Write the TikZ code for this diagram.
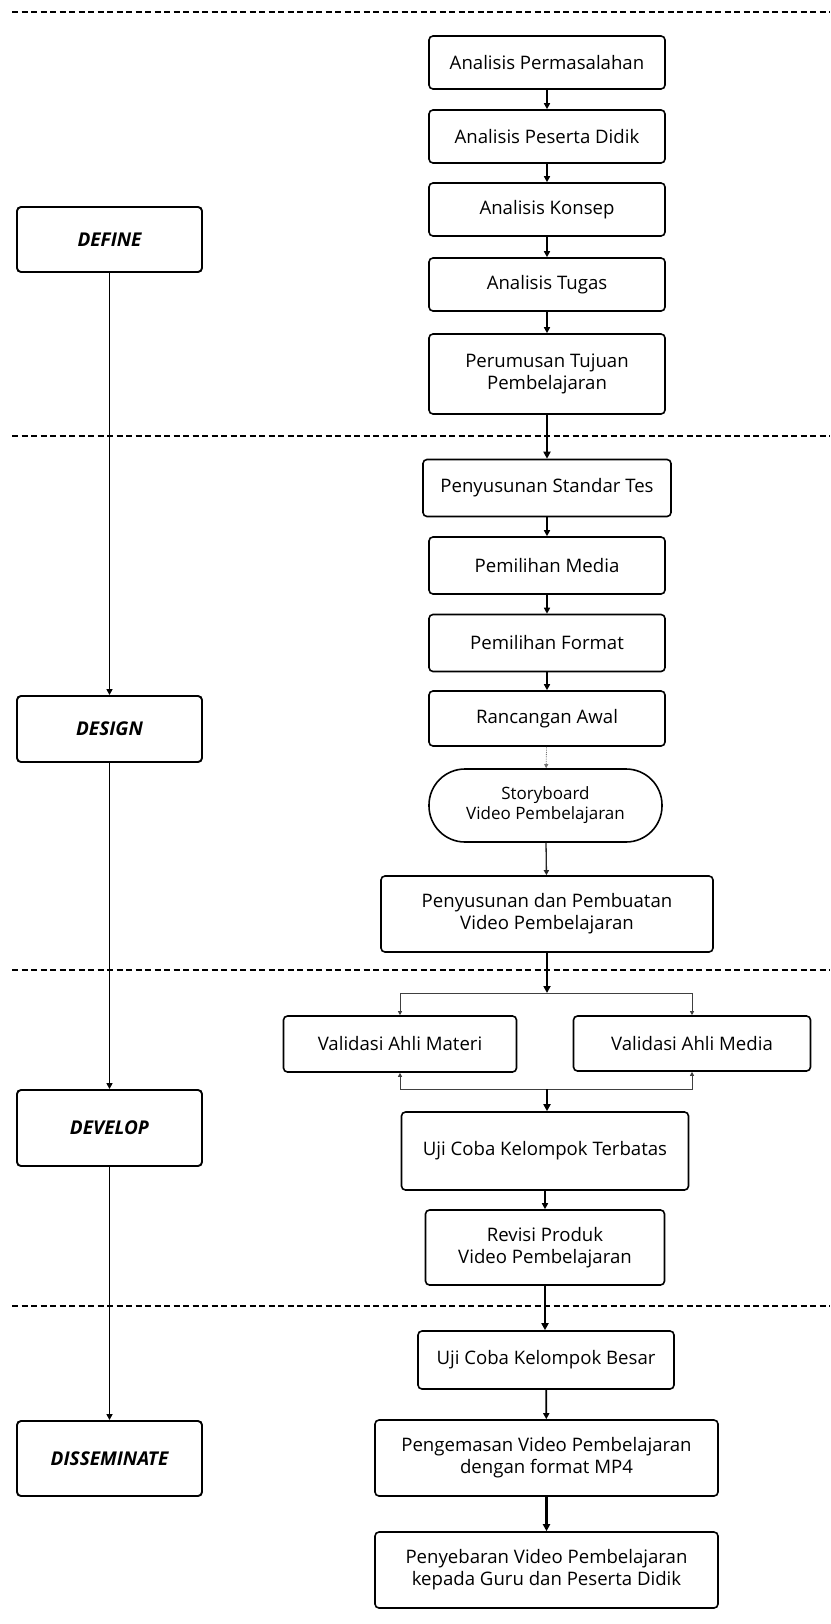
\documentclass[tikz,border=0pt]{standalone}
\usepackage{fontspec}
\setmainfont{Open Sans}
\usetikzlibrary{arrows.meta}
\begin{document}
\begin{tikzpicture}[x=1pt,y=-1pt,
  box/.style={draw=black, line width=1.6pt, rounded corners=4pt, fill=white, align=center, inner sep=0pt, font=\fontsize{18.6}{22}\selectfont, text=black},
  wh/.style 2 args={minimum width=#1pt, minimum height=#2pt},
  phase/.style={box, line width=1.9pt, font=\fontsize{19}{22}\selectfont\bfseries\itshape, text=black},
  stadium/.style={box, rounded corners=36pt, font=\fontsize{17}{20}\selectfont},
  flow/.style={line width=1.8pt, -{Triangle[length=6pt,width=6pt]}},
  bigflow/.style={line width=2.5pt, -{Triangle[length=7pt,width=7pt]}},
  midflow/.style={line width=1.3pt, draw=black!85, -{Triangle[length=5pt,width=5pt]}},
  branch/.style={line width=0.9pt, draw=black!75, -{Triangle[length=4pt,width=4pt]}},
  dotflow/.style={line width=0.8pt, draw=black!55, densely dotted, -{Triangle[length=4pt,width=4pt]}},
  sep/.style={line width=1.8pt, dash pattern=on 6pt off 3.5pt}
]
\useasboundingbox (0,0) rectangle (830,1624);

% separators
\draw[sep] (12,12.4) -- (830,12.4);
\draw[sep] (12,436) -- (830,436);
\draw[sep] (12,970) -- (830,970);
\draw[sep] (12,1306) -- (830,1306);

% phases
\node[phase, wh={185}{65}] (define) at (109.5,239.5) {DEFINE};
\node[phase, wh={185}{66}] (design) at (109.5,729) {DESIGN};
\node[phase, wh={185}{76}] (develop) at (109.5,1128) {DEVELOP};
\node[phase, wh={185}{75}] (dissem) at (109.5,1458.5) {DISSEMINATE};

\draw[flow] (define) -- (design);
\draw[flow] (design) -- (develop);
\draw[flow] (develop) -- (dissem);

% define column
\node[box, wh={236}{53}] (ap) at (547,62.5) {Analisis Permasalahan};
\node[box, wh={236}{53}] (apd) at (547,136.5) {Analisis Peserta Didik};
\node[box, wh={236}{53}] (ak) at (547,209.5) {Analisis Konsep};
\node[box, wh={236}{53}] (at) at (547,284.5) {Analisis Tugas};
\node[box, wh={236}{80}] (ptp) at (547,374) {Perumusan Tujuan\\Pembelajaran};

% design column
\node[box, wh={248}{57}] (pst) at (547,488) {Penyusunan Standar Tes};
\node[box, wh={236}{57}] (pm) at (547,565.5) {Pemilihan Media};
\node[box, wh={236}{57}] (pf) at (547,643) {Pemilihan Format};
\node[box, wh={236}{55}] (ra) at (547,718.5) {Rancangan Awal};
\node[stadium, wh={233}{73}] (sb) at (545.5,805.5) {Storyboard\\Video Pembelajaran};
\node[box, wh={332}{76}] (ppv) at (547,914) {Penyusunan dan Pembuatan\\Video Pembelajaran};

% develop column
\node[box, wh={233}{56}] (vam) at (400,1044) {Validasi Ahli Materi};
\node[box, wh={237}{55}] (vme) at (692,1043.5) {Validasi Ahli Media};
\node[box, wh={287}{78}] (ukt) at (545,1151) {Uji Coba Kelompok Terbatas};
\node[box, wh={239}{75}] (rp) at (545,1247.5) {Revisi Produk\\Video Pembelajaran};

% disseminate column
\node[box, wh={256}{58}] (ukb) at (546,1360) {Uji Coba Kelompok Besar};
\node[box, wh={343}{76}] (pvp) at (546.5,1458) {Pengemasan Video Pembelajaran\\dengan format MP4};
\node[box, wh={343}{76}] (pyv) at (546.5,1570) {Penyebaran Video Pembelajaran\\kepada Guru dan Peserta Didik};

\coordinate (jt) at (547,993);
\coordinate (jb) at (547,1089);

% connectors
\draw[flow] (ap) -- (apd);
\draw[flow] (apd) -- (ak);
\draw[flow] (ak) -- (at);
\draw[flow] (at) -- (ptp);
\draw[bigflow] (ptp) -- (pst);
\draw[flow] (pst) -- (pm);
\draw[flow] (pm) -- (pf);
\draw[flow] (pf) -- (ra);
\draw[dotflow] (ra) -- (sb);
\draw[midflow] (sb) -- (ppv);
\draw[bigflow] (ppv) -- (jt);
\draw[branch] (jt) -| (vam.north);
\draw[branch] (jt) -| (vme.north);
\draw[branch] (jb) -| (vam.south);
\draw[branch] (jb) -| (vme.south);
\draw[bigflow] (jb) -- (jb |- ukt.north);
\draw[flow] (ukt) -- (ukt |- rp.north);
\draw[bigflow] (rp) -- (rp |- ukb.north);
\draw[flow] (ukb) -- (pvp);
\draw[bigflow] (pvp) -- (pyv);
\end{tikzpicture}
\end{document}
